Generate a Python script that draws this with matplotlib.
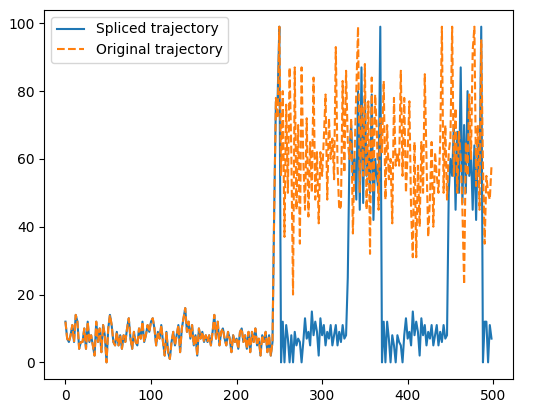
import numpy as np
import matplotlib
matplotlib.use("Agg")
import matplotlib.pyplot as plt

# values sampled every 2 steps, read off the reference
# x = 0..242, both trajectories are the same here
shared = [12, 7, 6, 8, 11, 6, 14, 12, 4, 6,
          6, 10, 4, 12, 6, 8, 5, 2, 12, 6,
          10, 3, 11, 8, 0, 10, 14, 11, 6, 5,
          9, 5, 8, 4, 8, 6, 10, 13, 7, 4,
          9, 6, 5, 10, 7, 12, 6, 8, 11, 9,
          12, 13, 10, 5, 9, 7, 11, 6, 2, 9,
          3, 1, 6, 9, 5, 8, 11, 3, 10, 13,
          16, 9, 12, 7, 11, 5, 8, 2, 10, 7,
          9, 6, 8, 6, 8, 5, 9, 14, 7, 12,
          5, 9, 10, 7, 5, 9, 7, 3, 8, 6,
          7, 4, 9, 10, 6, 8, 4, 9, 3, 9,
          6, 10, 5, 7, 2, 8, 6, 9, 3, 8,
          2, 6]

# x = 244..498
spliced_tail = [45, 77, 78, 99, 0, 12, 0, 11, 7, 0,
                8, 0, 9, 5, 7, 6, 0, 6, 13, 7,
                9, 5, 15, 8, 12, 9, 2, 13, 8, 11,
                5, 9, 7, 11, 5, 8, 11, 5, 9, 6,
                11, 7, 8, 25, 62, 70, 55, 60, 48, 80,
                45, 87, 47, 78, 55, 62, 50, 79, 42, 60,
                55, 50, 99, 0, 12, 0, 12, 7, 0, 8,
                5, 0, 8, 6, 5, 0, 8, 13, 7, 9,
                5, 15, 8, 12, 9, 2, 13, 8, 11, 5,
                9, 7, 11, 5, 8, 11, 5, 9, 6, 11,
                7, 8, 50, 60, 55, 70, 45, 68, 50, 87,
                47, 70, 50, 80, 55, 62, 45, 64, 42, 65,
                55, 99, 0, 12, 12, 0, 11, 7]

original_tail = [45, 78, 72, 99, 55, 80, 37, 76, 50, 87,
                 62, 20, 87, 45, 70, 35, 87, 60, 45, 72,
                 43, 65, 50, 84, 48, 62, 41, 62, 55, 66,
                 79, 48, 72, 60, 66, 54, 93, 58, 45, 46,
                 83, 56, 86, 65, 60, 72, 38, 62, 80, 99,
                 50, 76, 55, 88, 45, 77, 32, 84, 50, 79,
                 68, 45, 72, 62, 83, 48, 70, 54, 60, 41,
                 78, 58, 62, 58, 86, 55, 78, 50, 62, 77,
                 45, 31, 65, 31, 58, 40, 65, 50, 85, 60,
                 37, 48, 65, 40, 62, 55, 50, 65, 99, 50,
                 70, 48, 62, 66, 99, 55, 75, 50, 68, 60,
                 45, 23, 65, 55, 79, 60, 92, 99, 52, 70,
                 45, 95, 58, 35, 55, 50, 48, 58]

spliced = shared + spliced_tail
original = shared + original_tail
x_spliced = np.arange(len(spliced)) * 2
x_original = np.arange(len(original)) * 2

fig = plt.figure(figsize=(5.52, 4.13), dpi=100)
ax = fig.add_axes([0.08, 0.082, 0.849, 0.894])

ax.plot(x_spliced, spliced, label='Spliced trajectory')
ax.plot(x_original, original, '--', label='Original trajectory')
ax.set_xticks([0, 100, 200, 300, 400, 500])
ax.set_yticks([0, 20, 40, 60, 80, 100])
ax.legend(loc='upper left')

fig.savefig('out.png', dpi=100)
